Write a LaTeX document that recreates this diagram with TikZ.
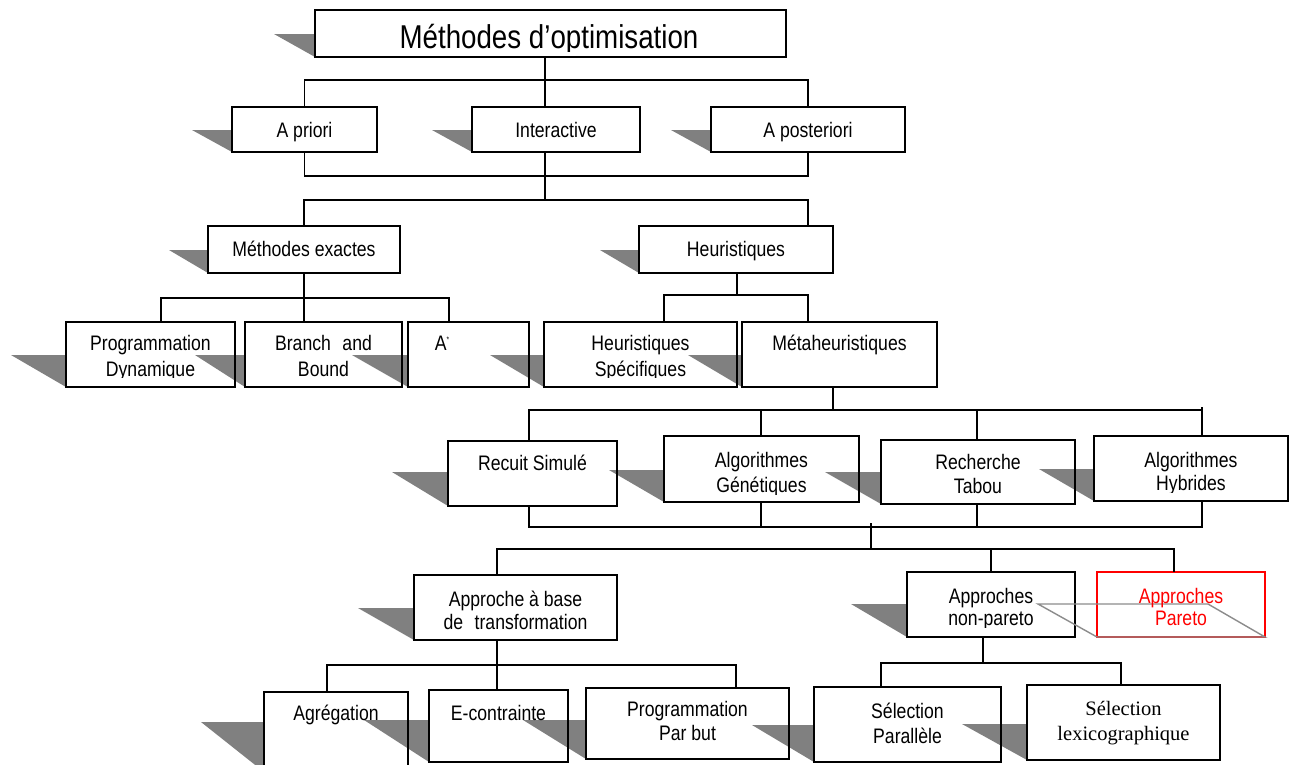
\documentclass[tikz,border=0pt]{standalone}
\usepackage{fontspec}
\setmainfont{Liberation Sans}[FakeStretch=0.84]
\newfontfamily\serifft{Liberation Serif}
\usetikzlibrary{calc}
\pgfdeclarelayer{bg}
\pgfsetlayers{bg,main}
\definecolor{shdc}{HTML}{808080}
\definecolor{redc}{HTML}{FF0000}
\definecolor{parac}{HTML}{8C8C8C}
\tikzset{
  box/.style={draw=black, line width=1.6pt, rectangle, inner sep=0pt, outer sep=0pt},
  redbox/.style={box, draw=redc},
  shd/.style={fill=shdc},
  conn/.style={draw=black, line width=1.6pt},
  para/.style={draw=parac, line width=1.4pt},
  txt/.style={font=\fontsize{21}{24}\selectfont, inner sep=0pt, outer sep=0pt, text=black},
  redtxt/.style={txt, text=redc},
  sertxt/.style={font=\serifft\fontsize{20.5}{24}\selectfont, inner sep=0pt, outer sep=0pt, text=black},
  titletxt/.style={font=\fontsize{33}{36}\selectfont, inner sep=0pt, outer sep=0pt, text=black}
}
% #2 name, #3 x1, #4 y1, #5 x2, #6 y2, #7 shadow tip x, #8 shadow top y
\newcommand\obox[8][box]{%
  \begin{pgfonlayer}{bg}\fill[shd] (#7,#8) -- (#3,#8) -- (#3,#6) -- cycle;\end{pgfonlayer}
  \node[#1, minimum width={(#5-#3)*1pt}, minimum height={(#6-#4)*1pt}] (#2) at ({(#3+#5)/2},{(#4+#6)/2}) {};}
\newcommand\tx[5][txt]{\node[#1, anchor=base] (#2) at (#3,#4) {#5};}
\begin{document}
\begin{tikzpicture}[x=1pt,y=-1pt]
\useasboundingbox (0,0) rectangle (1296,764);
\begin{pgfonlayer}{bg}\fill[white] (0,0) rectangle (1296,764);\end{pgfonlayer}

% ---------- boxes ----------
\obox{title}{315}{10}{786}{57}{274}{34}
\obox{apriori}{232}{107}{377}{152}{192}{130}
\obox{inter}{472}{107}{640}{152}{432}{130}
\obox{apost}{711}{107}{905}{152}{671}{130}
\obox{mexact}{208}{226}{400}{273}{169}{250}
\obox{heur}{639}{226}{833}{273}{600}{250}
\obox{pd}{66}{322}{235}{387}{11}{355}
\obox{bb}{245}{322}{402}{387}{195}{355}
\obox{astar}{408}{322}{529}{387}{352}{355}
\obox{hs}{544}{322}{737}{387}{490}{355}
\obox{meta}{742}{322}{937}{387}{688}{355}
\obox{rs}{448}{441}{617}{506}{392}{472}
\obox{ag}{664}{436}{859}{502}{609}{470}
\obox{rt}{881}{440}{1075}{504}{825}{472}
\obox{ah}{1094}{436}{1288}{501}{1039}{469}
\obox{abt}{414}{575}{617}{640}{358}{608}
\obox{anp}{907}{572}{1075}{637}{851}{604}
\node[redbox, minimum width=168pt, minimum height=65pt] (ap) at (1181,604.5) {};
\obox{agr}{264}{692}{408}{772}{201}{722}
\obox{ec}{429}{690}{568}{762}{364}{720}
\obox{ppb}{586}{688}{789}{759}{523}{720}
\obox{sp}{814}{687}{1001}{762}{752}{725}
\obox{sl}{1027}{685}{1220}{760}{962}{724}

% parallelogram outline of the Pareto box
\draw[para] (1038,604) -- (1208,604) -- (ap.south east) -- (ap.south west) -- cycle;

% ---------- texts ----------
\begin{scope}\clip (315,10) rectangle (786,51);
\node[titletxt, anchor=base] (t-title) at (549,48) {Méthodes d’optimisation};
\end{scope}
\tx{t-apriori}{304.5}{137}{A priori}
\tx{t-inter}{556}{137}{Interactive}
\tx{t-apost}{808}{137}{A posteriori}
\tx{t-mexact}{304}{256}{Méthodes exactes}
\tx{t-heur}{736}{256}{Heuristiques}
\begin{scope}\clip (66,322) rectangle (235,377);
\tx{t-pd1}{150.5}{350}{Programmation}
\tx{t-pd2}{150.5}{376}{Dynamique}
\end{scope}
\tx{t-bb1}{323.5}{350}{Branch\hspace{0.55em}and}
\tx{t-bb2}{323.5}{376}{Bound}
\tx{t-astar}{442}{350}{A\raisebox{8pt}{\fontsize{8}{8}\selectfont *}}
\begin{scope}\clip (544,322) rectangle (737,377);
\tx{t-hs1}{640.5}{350}{Heuristiques}
\tx{t-hs2}{640.5}{376}{Spécifiques}
\end{scope}
\tx{t-meta}{839.5}{350}{Métaheuristiques}
\tx{t-rs}{532.5}{470}{Recuit Simulé}
\begin{scope}\clip (664,436) rectangle (859,494);
\tx{t-ag1}{761.5}{467}{Algorithmes}
\tx{t-ag2}{761.5}{492}{Génétiques}
\end{scope}
\tx{t-rt1}{978}{469}{Recherche}
\tx{t-rt2}{978}{493}{Tabou}
\begin{scope}\clip (1094,436) rectangle (1288,492);
\tx{t-ah1}{1191}{467}{Algorithmes}
\tx{t-ah2}{1191}{490}{Hybrides}
\end{scope}
\tx{t-abt1}{515.5}{606}{Approche à base}
\tx{t-abt2}{515.5}{629}{de\hspace{0.55em}transformation}
\begin{scope}\clip (907,572) rectangle (1075,627);
\tx{t-anp1}{991}{603}{Approches}
\tx{t-anp2}{991}{625}{non-pareto}
\end{scope}
\tx[redtxt]{t-ap1}{1181}{603}{Approches}
\tx[redtxt]{t-ap2}{1181}{625}{Pareto}
\tx{t-agr}{336}{720}{Agrégation}
\tx{t-ec}{498.5}{720}{E-contrainte}
\tx{t-ppb1}{687.5}{716}{Programmation}
\tx{t-ppb2}{687.5}{740}{Par but}
\tx{t-sp1}{907.5}{718}{Sélection}
\tx{t-sp2}{907.5}{743}{Parallèle}
\tx[sertxt]{t-sl1}{1123.5}{715}{Sélection}
\tx[sertxt]{t-sl2}{1123.5}{740}{lexicographique}

% ---------- connectors ----------
\coordinate (j0) at (545,80);
\draw[conn] (title.south -| j0) -- (j0);
\draw[conn] (apriori.north) |- (apost.north |- j0) -- (apost.north);
\draw[conn] (j0) -- (inter.north -| j0);

\coordinate (j1) at (545,176);
\coordinate (j2) at (545,200);
\coordinate (j2b) at (808,200);
\draw[conn] (apriori.south) |- (apost.south |- j1) -- (apost.south);
\draw[conn] (inter.south -| j1) -- (j1) -- (j2);
\draw[conn] (mexact.north) |- (j2b) -- (heur.north -| j2b);

\coordinate (j3a) at (161,298);
\coordinate (j3c) at (449,298);
\draw[conn] (mexact.south) -- (bb.north -| mexact.south);
\draw[conn] (pd.north -| j3a) -- (j3a) -- (j3c) -- (astar.north -| j3c);

\coordinate (j4) at (737,295);
\coordinate (j4a) at (664,295);
\coordinate (j4b) at (808,295);
\draw[conn] (heur.south -| j4) -- (j4);
\draw[conn] (hs.north -| j4a) -- (j4a) -- (j4b) -- (meta.north -| j4b);

\coordinate (j5) at (833,410);
\coordinate (j5a) at (529,410);
\coordinate (j5b) at (761,410);
\coordinate (j5c) at (977,410);
\coordinate (j5d) at (1202,410);
\draw[conn] (meta.south -| j5) -- (j5);
\draw[conn] (rs.north -| j5a) -- (j5a) -- (j5d);
\draw[conn] ([yshift=3pt]j5d) -- (ah.north -| j5d);
\draw[conn] (j5b) -- (ag.north -| j5b);
\draw[conn] (j5c) -- (rt.north -| j5c);

\coordinate (k1) at (529,527);
\coordinate (k2) at (761,527);
\coordinate (k3) at (977,527);
\coordinate (k4) at (1202,527);
\coordinate (k5) at (871,527);
\coordinate (k6) at (871,549);
\draw[conn] (rs.south -| k1) -- (k1) -- (k4) -- (ah.south -| k4);
\draw[conn] (ag.south -| k2) -- (k2);
\draw[conn] (rt.south -| k3) -- (k3);
\draw[conn] ([yshift=4pt]k5) -- (k6);

\coordinate (m1) at (497,549);
\coordinate (m2) at (991,549);
\coordinate (m3) at (1174,549);
\draw[conn] (abt.north -| m1) -- (m1) -- (m3) -- (ap.north -| m3);
\draw[conn] (m2) -- (anp.north -| m2);

\coordinate (n0) at (497,665);
\coordinate (n1) at (327,665);
\coordinate (n3) at (736,665);
\draw[conn] (abt.south -| n0) -- (n0);
\draw[conn] (agr.north -| n1) -- (n1) -- (n3) -- (ppb.north -| n3);
\draw[conn] (n0) -- (ec.north -| n0);

\coordinate (p0) at (983,663);
\coordinate (p1) at (881,663);
\coordinate (p2) at (1121,663);
\draw[conn] (anp.south -| p0) -- (p0);
\draw[conn] (sp.north -| p1) -- (p1) -- (p2) -- (sl.north -| p2);
\end{tikzpicture}
\end{document}
